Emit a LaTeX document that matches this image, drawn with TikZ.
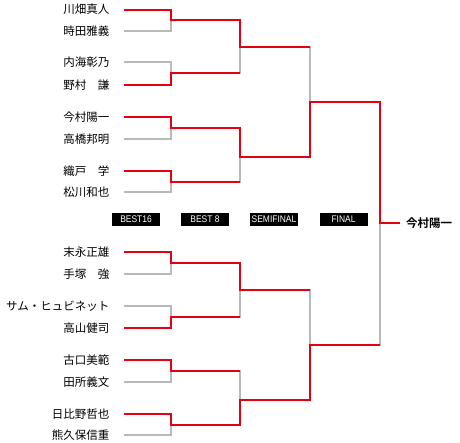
\documentclass[tikz,border=0pt]{standalone}
\usepackage{fontspec}
\setmainfont{Noto Sans CJK JP}
\newfontfamily\jpbold{Noto Sans CJK JP Bold}
\newfontfamily\labfont[FakeStretch=0.88]{Liberation Sans}
\definecolor{winred}{RGB}{230,0,18}
\definecolor{losegray}{RGB}{185,185,185}
\tikzset{
  loseline/.style={draw=losegray, line width=1.3pt},
  winline/.style={draw=winred, line width=2pt},
  player/.style={anchor=east, inner sep=0pt, font=\fontsize{11.5}{12}\selectfont},
  roundbox/.style={fill=black, text=white, minimum width=48pt, minimum height=13pt, inner sep=0pt, font=\labfont\fontsize{9.6}{10}\selectfont},
}
\begin{document}
\begin{tikzpicture}[x=1pt,y=1pt]
\useasboundingbox (0,0) rectangle (460,-442);
% player names and line starts
\foreach \i/\yy/\nm in {1/9.5/川畑真人, 2/31/時田雅義, 3/62/内海彰乃, 4/85/野村　謙,
  5/117/今村陽一, 6/139/高橋邦明, 7/171/織戸　学, 8/192/松川和也,
  9/252/末永正雄, 10/274/手塚　強, 11/306/サム・ヒュビネット, 12/328/高山健司,
  13/360/古口美範, 14/382/田所義文, 15/414/日比野哲也, 16/435/熊久保信重}{
  \node[player] (n\i) at (109.5,-\yy) {\nm};
  \coordinate (s\i) at (124,-\yy);
}
% round 1 junctions
\foreach \j/\yy in {1/20, 2/73, 3/128, 4/182, 5/263, 6/317, 7/371, 8/425}{
  \coordinate (m\j) at (171,-\yy);
}
% round 2 junctions
\foreach \k/\yy in {1/47, 2/157, 3/290, 4/400}{
  \coordinate (q\k) at (240,-\yy);
}
% semifinal junctions
\coordinate (t1) at (310,-102);
\coordinate (t2) at (310,-345);
% final
\coordinate (f) at (380,-223);
\coordinate (w) at (400,-223);
\node[anchor=west, inner sep=0pt, font=\jpbold\fontsize{11.5}{12}\selectfont] (champ) at (406,-223) {今村陽一};

% gray full bracket
\foreach \i/\j in {1/1,2/1,3/2,4/2,5/3,6/3,7/4,8/4,9/5,10/5,11/6,12/6,13/7,14/7,15/8,16/8}{
  \draw[loseline] (s\i) -| (m\j);
}
\foreach \j/\k in {1/1,2/1,3/2,4/2,5/3,6/3,7/4,8/4}{
  \draw[loseline] (m\j) -| (q\k);
}
\foreach \k/\l in {1/1,2/1,3/2,4/2}{
  \draw[loseline] (q\k) -| (t\l);
}
\draw[loseline] (t1) -| (f);
\draw[loseline] (t2) -| (f);

% winners in red
\draw[winline] (s1) -| (m1) -| (q1) -- (q1 -| t1);
\draw[winline] (s4) -| (m2) -- (m2 -| q1);
\draw[winline] (s5) -| (m3) -| (q2) -| (t1) -| (f) -- (w);
\draw[winline] (s7) -| (m4) -- (m4 -| q2);
\draw[winline] (s9) -| (m5) -| (q3) -- (q3 -| t2);
\draw[winline] (s12) -| (m6) -- (m6 -| q3);
\draw[winline] (s13) -| (m7) -- (m7 -| q4);
\draw[winline] (s15) -| (m8) -| (q4) -| (t2) -- (t2 -| f);

% round labels
\node[roundbox] (r16) at (136,-219.5) {BEST16};
\node[roundbox] (r8) at (205,-219.5) {BEST 8};
\node[roundbox] (rsf) at (274,-219.5) {SEMIFINAL};
\node[roundbox] (rf) at (343.5,-219.5) {FINAL};
\end{tikzpicture}
\end{document}
